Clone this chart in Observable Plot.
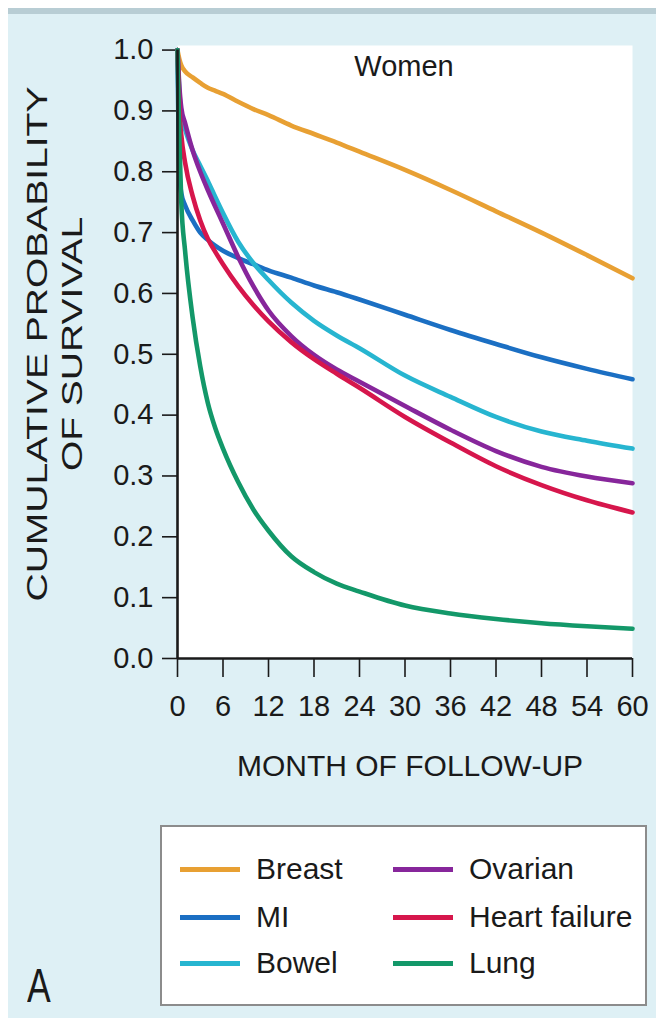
<!DOCTYPE html>
<html>
<head>
<meta charset="utf-8">
<script src="https://cdn.jsdelivr.net/npm/d3@7"></script>
<script src="https://cdn.jsdelivr.net/npm/@observablehq/plot@0.6"></script>
<style>
  html, body { margin: 0; padding: 0; background: #ffffff; }
  #page {
    position: relative; width: 656px; height: 1019px; overflow: hidden;
    font-family: "Liberation Sans", Arial, Helvetica, sans-serif; color: #1a1a1a;
  }
  #panel {
    position: absolute; left: 8px; top: 8px; right: 0; bottom: 1px;
    background: #def0f5; border-top: 6px solid #b8cdd4;
  }
  #chart { position: absolute; left: 0; top: 0; }
  #legend {
    position: absolute; left: 160px; top: 825px; width: 483px; height: 177px;
    background: #ffffff; border: 2px solid #8c8c8c;
  }
  .key { position: absolute; height: 5px; width: 60px; }
  .keylabel { position: absolute; font-size: 30px; line-height: 30px; white-space: nowrap; }
  #panel-letter {
    position: absolute; left: 27px; top: 962px; font-size: 48px; line-height: 48px;
    transform: scaleX(0.74); transform-origin: left top;
  }
</style>
</head>
<body>
<div id="page">
  <div id="panel"></div>
  <div id="chart"></div>
  <div id="legend"></div>
  <div id="panel-letter">A</div>
</div>
<script>
// Follow-up months at which the survival curves are sampled
const months = [0, 0.25, 0.5, 1, 2, 3, 4, 5, 6, 8, 10, 12, 15, 18, 21, 24, 30, 36, 42, 48, 54, 60];

// Cumulative probability of survival, women
const breast       = [1.0, 0.985, 0.975, 0.965, 0.955, 0.946, 0.938, 0.933, 0.928, 0.915, 0.903, 0.893, 0.876, 0.862, 0.848, 0.833, 0.803, 0.770, 0.735, 0.700, 0.663, 0.625];
const mi           = [1.0, 0.800, 0.765, 0.745, 0.720, 0.700, 0.688, 0.678, 0.670, 0.658, 0.648, 0.638, 0.626, 0.613, 0.602, 0.590, 0.565, 0.540, 0.517, 0.495, 0.476, 0.459];
const bowel        = [1.0, 0.930, 0.895, 0.870, 0.835, 0.810, 0.785, 0.758, 0.732, 0.685, 0.650, 0.622, 0.585, 0.555, 0.531, 0.510, 0.465, 0.430, 0.397, 0.373, 0.358, 0.345];
const ovarian      = [1.0, 0.940, 0.905, 0.880, 0.835, 0.800, 0.770, 0.742, 0.715, 0.660, 0.612, 0.572, 0.530, 0.499, 0.475, 0.455, 0.415, 0.376, 0.341, 0.315, 0.299, 0.288];
const heartFailure = [1.0, 0.900, 0.860, 0.815, 0.760, 0.720, 0.690, 0.668, 0.648, 0.612, 0.581, 0.554, 0.520, 0.492, 0.468, 0.445, 0.397, 0.355, 0.316, 0.285, 0.260, 0.240];
const lung         = [1.0, 0.850, 0.750, 0.670, 0.560, 0.480, 0.420, 0.378, 0.345, 0.290, 0.245, 0.210, 0.168, 0.142, 0.123, 0.110, 0.087, 0.074, 0.065, 0.058, 0.053, 0.049];

const seriesNames  = ["Breast", "MI", "Bowel", "Ovarian", "Heart failure", "Lung"];
const seriesValues = [breast, mi, bowel, ovarian, heartFailure, lung];
const seriesColors = ["#e8a033", "#1b6fc3", "#27b5d0", "#87269b", "#d6164c", "#139869"];

const xTicks = [0, 6, 12, 18, 24, 30, 36, 42, 48, 54, 60];
const yTicks = [0, 0.1, 0.2, 0.3, 0.4, 0.5, 0.6, 0.7, 0.8, 0.9, 1.0];

// Long-format table for the line mark
const rows = seriesNames.flatMap((name, i) =>
  months.map((m, j) => ({series: name, month: m, value: seriesValues[i][j]}))
);

const ink = "#1a1a1a";
const yTitle = "CUMULATIVE PROBABILITY\nOF SURVIVAL";

const chart = Plot.plot({
  width: 656,
  height: 800,
  marginLeft: 177,
  marginRight: 24,
  marginTop: 45,
  marginBottom: 142,
  style: {
    background: "transparent",
    fontFamily: "'Liberation Sans', Arial, Helvetica, sans-serif",
    color: ink
  },
  x: {domain: [0, 60]},
  y: {domain: [0, 1.0075]},
  color: {domain: seriesNames, range: seriesColors},
  marks: [
    Plot.frame({fill: "#ffffff", stroke: "none"}),
    Plot.axisX({
      ticks: xTicks, tickSize: 19, tickPadding: 18, fontSize: 29,
      strokeWidth: 1.6, label: null
    }),
    Plot.axisY({
      ticks: yTicks, tickFormat: d3.format(".1f"), tickSize: 15, tickPadding: 9,
      fontSize: 29, strokeWidth: 1.6, label: null
    }),
    Plot.line(rows, {
      x: "month", y: "value", z: "series", stroke: "series",
      strokeWidth: 4.6, curve: "monotone-x", strokeLinejoin: "round"
    }),
    Plot.ruleX([0], {y1: 0, y2: 1, stroke: ink, strokeWidth: 2.6}),
    Plot.ruleY([0], {x1: 0, x2: 60, stroke: ink, strokeWidth: 2.6}),
    Plot.text(["Women"], {
      frameAnchor: "top", dx: -1, dy: 21, lineAnchor: "middle",
      fontSize: 29, fill: ink
    }),
    Plot.text(["MONTH OF FOLLOW-UP"], {
      frameAnchor: "bottom", dx: 5, dy: 108, lineAnchor: "middle",
      fontSize: 30, fill: ink
    }),
    Plot.text([yTitle], {
      frameAnchor: "left", dx: -124, dy: -8, rotate: -90,
      textAnchor: "middle", lineAnchor: "middle",
      lineHeight: 1.15, fontSize: 30, fill: ink
    })
  ]
});

// The vertical title runs longer than its glyph height; stretch along the reading direction
d3.select(chart).selectAll("text")
  .filter(function() { return this.textContent.startsWith("CUMULATIVE"); })
  .each(function() {
    const t = this.getAttribute("transform") || "";
    this.setAttribute("transform", t + " scale(1.3,1)");
  });

document.getElementById("chart").appendChild(chart);

// Two-column legend with line swatches
const legend = document.getElementById("legend");
const rowTops = [44, 92, 138];
const colSwatch = [18, 231];
const colLabel = [94, 307];
seriesNames.forEach((name, i) => {
  const col = Math.floor(i / 3), row = i % 3;
  const key = document.createElement("div");
  key.className = "key";
  key.style.left = colSwatch[col] + "px";
  key.style.top = (rowTops[row] - 4) + "px";
  key.style.background = seriesColors[i];
  legend.appendChild(key);
  const lab = document.createElement("div");
  lab.className = "keylabel";
  lab.style.left = colLabel[col] + "px";
  lab.style.top = (rowTops[row] - 17) + "px";
  lab.textContent = name;
  legend.appendChild(lab);
});
</script>
</body>
</html>
